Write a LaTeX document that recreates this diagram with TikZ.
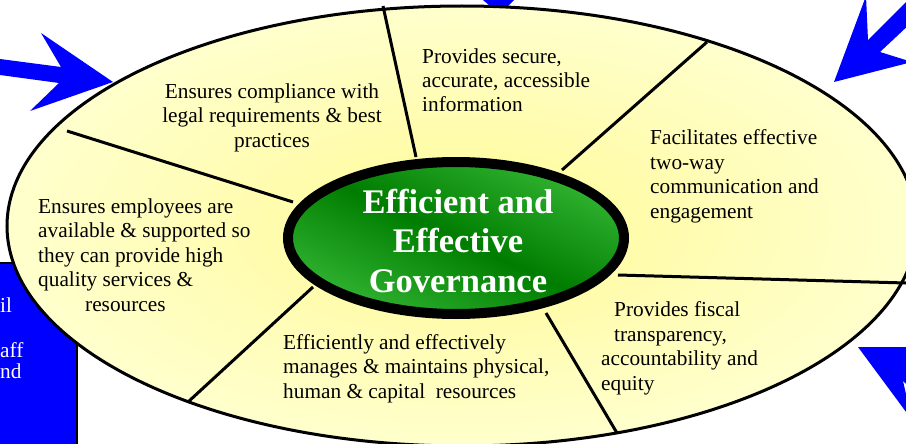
\documentclass[tikz,border=0pt]{standalone}
\usepackage{fontspec}
\setmainfont{Liberation Serif}
\usetikzlibrary{calc}
\definecolor{arrowblue}{RGB}{0,0,255}
\definecolor{paleyellow}{RGB}{255,255,205}
\definecolor{deepyellow}{RGB}{255,250,150}
\definecolor{lightgreen}{RGB}{50,180,50}
\definecolor{darkgreen}{RGB}{0,125,0}
\tikzset{
  goal/.style={font=\fontsize{21.3}{24.4}\selectfont, inner sep=0pt, anchor=base west, align=left},
  divider/.style={line width=3pt},
}

\begin{document}
\begin{tikzpicture}[x=1pt,y=-1pt]
\useasboundingbox (0,0) rectangle (906,444);
\clip (0,0) rectangle (906,444);
% blue arrows and box behind the ring
\fill[arrowblue] (0,59) -- (61,67) -- (41,33) -- (113,82) -- (30,111) -- (59,83) -- (0,75) -- cycle;
\fill[arrowblue] (478,-4) -- (518,-4) -- (500,14) -- cycle;
\fill[arrowblue] (834,82) -- (866,-4) -- (868,40) -- (912,-4) -- (912,22) -- (880,52) -- (912,62) -- cycle;
\fill[arrowblue] (858,347) -- (930,347) -- (920,362) -- (950,395) -- (935,410) -- (903,381) -- (912,420) -- cycle;
\draw[fill=arrowblue, line width=2pt] (-5,263) rectangle (77,450);
\node[goal, text=white] (boxa) at (0,312) {il};
\node[goal, text=white] (boxb) at (0,357) {aff};
\node[goal, text=white] (boxc) at (0,378) {nd};
% outer ring
\draw[line width=3pt, inner color=deepyellow, outer color=paleyellow] (462,226) ellipse [x radius=455, y radius=220];
\coordinate (o1) at (67,131);   \coordinate (i1) at (293,202);
\coordinate (o2) at (383,6);    \coordinate (i2) at (416,157);
\coordinate (o3) at (707,42);   \coordinate (i3) at (562,170);
\coordinate (o4) at (906,283);  \coordinate (i4) at (618,275);
\coordinate (o5) at (617,433);  \coordinate (i5) at (546,313);
\coordinate (o6) at (188,402);  \coordinate (i6) at (313,287);
\draw[divider] (o1) -- (i1);
\draw[divider] (o2) -- (i2);
\draw[divider] (o3) -- (i3);
\draw[divider] (o4) -- (i4);
\draw[divider] (o5) -- (i5);
\draw[divider] (o6) -- (i6);
% centre
\draw[line width=10pt, top color=lightgreen, bottom color=lightgreen, middle color=darkgreen, shading angle=-25] (456,238) ellipse [x radius=168, y radius=76];
\node[font=\fontsize{34.5}{39.5}\selectfont\bfseries, text=white, align=center, anchor=base, inner sep=0pt] (title) at (458,292) {Efficient and\\Effective\\Governance};
\node[goal, align=center, anchor=base] (compliance) at (272,147) {Ensures compliance with\\legal requirements \& best\\practices};
\node[goal] (information) at (422,112) {Provides secure,\\accurate, accessible\\information};
\node[goal] (communication) at (650,218) {Facilitates effective\\two-way\\communication and\\engagement};
\node[goal] (employees) at (38,311) {Ensures employees are\\available \& supported so\\they can provide high\\quality services \&\\\hspace*{47pt}resources};
\node[goal] (resources) at (283,398) {Efficiently and effectively\\manages \& maintains physical,\\human \& capital~ resources};
\node[goal] (fiscal) at (601,390) {\hspace*{13pt}Provides fiscal\\\hspace*{13pt}transparency,\\accountability and\\equity};
\end{tikzpicture}
\end{document}
